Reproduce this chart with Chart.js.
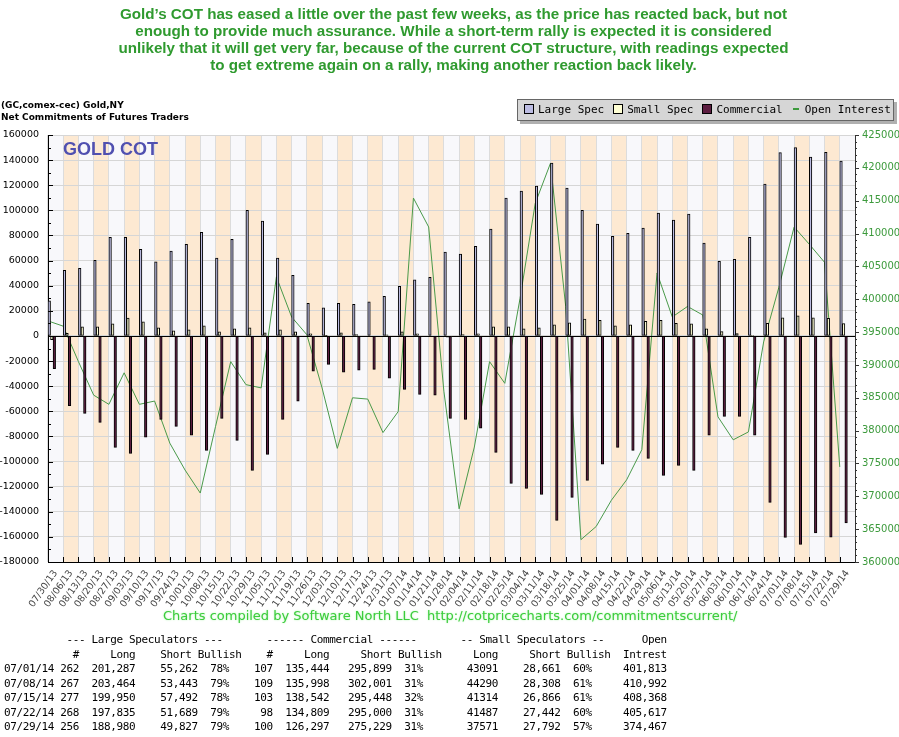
<!DOCTYPE html>
<html lang="en">
<head>
<meta charset="UTF-8">
<title>Gold COT</title>
<script src="https://cdn.jsdelivr.net/npm/chart.js"></script>
<style>
    body { margin: 0; background: #fff; }
    #wrap { position: relative; width: 899px; height: 737px; overflow: hidden; }
    #wrap canvas { position: absolute; left: 0; top: 0; }

    /* Kommentar oben */
    .note {
        position: absolute; left: 4px; top: 5px; width: 899px;
        text-align: center; color: #2f9a2f; line-height: 16.8px;
        font: bold 15.2px "Liberation Sans", Arial, sans-serif;
    }
    .head {
        position: absolute; left: 1px; top: 99px; color: #000;
        font: bold 9px "DejaVu Sans", Verdana, sans-serif; line-height: 12px;
    }
    .gold {
        position: absolute; left: 63px; top: 139px; color: #5050b0;
        font: bold 18px "Liberation Sans", Arial, sans-serif;
    }
    #legend {
        position: absolute; left: 517px; top: 99px; width: 369px; height: 20px;
        background: #d6d6d6; border: 1px solid #666; box-shadow: 3px 3px 0 #b0b0b0;
        font: 11px "DejaVu Sans Mono", monospace; line-height: 20px; padding-left: 6px;
        box-sizing: content-box; white-space: nowrap; overflow: hidden;
    }
    #legend .sw { display: inline-block; width: 8px; height: 8px; border: 1px solid #000; margin-right: 4px; vertical-align: -1px; }
    #legend .dash { display: inline-block; width: 6px; height: 2px; background: #3c9a3c; margin: 0 6px 0 1px; vertical-align: 3px; }
    #legend .item { margin-right: 9px; }
    .credit {
        position: absolute; left: 163px; top: 608px; color: #3ccc3c;
        font: 13px "DejaVu Sans", Verdana, sans-serif; text-shadow: 0 0 2px #a8f0a8;
    }
    #table {
        position: absolute; left: 4px; top: 633px; margin: 0; color: #000;
        font: 11px "DejaVu Sans Mono", monospace; letter-spacing: -0.37px; line-height: 14.5px;
    }
</style>
</head>
<body>
<div id="wrap">
    <canvas id="chart" width="899" height="737"></canvas>
    <div class="note">
        Gold’s COT has eased a little over the past few weeks, as the price has reacted back, but not<br>
        enough to provide much assurance. While a short-term rally is expected it is considered<br>
        unlikely that it will get very far, because of the current COT structure, with readings expected<br>
        to get extreme again on a rally, making another reaction back likely.
    </div>
    <div class="head">(GC,comex-cec) Gold,NY<br>Net Commitments of Futures Traders</div>
    <div class="gold">GOLD COT</div>
    <div id="legend"></div>
    <div class="credit">Charts compiled by Software North LLC&nbsp; http://cotpricecharts.com/commitmentscurrent/</div>
    <pre id="table"></pre>
</div>
<script>
    // Wochen (Dienstag-Stichtage)
    var dates = ['07/30/13', '08/06/13', '08/13/13', '08/20/13', '08/27/13', '09/03/13', '09/10/13', '09/17/13',
        '09/24/13', '10/01/13', '10/08/13', '10/15/13', '10/22/13', '10/29/13', '11/05/13', '11/12/13', '11/19/13',
        '11/26/13', '12/03/13', '12/10/13', '12/17/13', '12/24/13', '12/31/13', '01/07/14', '01/14/14', '01/21/14',
        '01/28/14', '02/04/14', '02/11/14', '02/18/14', '02/25/14', '03/04/14', '03/11/14', '03/18/14', '03/25/14',
        '04/01/14', '04/08/14', '04/15/14', '04/22/14', '04/29/14', '05/06/14', '05/13/14', '05/20/14', '05/27/14',
        '06/03/14', '06/10/14', '06/17/14', '06/24/14', '07/01/14', '07/08/14', '07/15/14', '07/22/14', '07/29/14'];

    // Netto-Positionen
    var largeSpec = [27900, 52300, 53900, 60300, 78600, 78600, 69000, 59000, 67500, 73000,
        82600, 61900, 77000, 100100, 91400, 61900, 48300, 26000, 22300, 26000,
        25200, 27100, 31600, 39600, 44600, 46700, 66700, 65100, 71400, 85000,
        109700, 115300, 119300, 137600, 117700, 100100, 89000, 79400, 81800, 85800,
        97800, 92200, 97000, 73900, 59500, 61100, 78600, 120900, 146025, 150021,
        142458, 146146, 139153];
    var smallSpec = [-3000, 2100, 7200, 7200, 9600, 14300, 11200, 6400, 4000, 4800,
        8000, 3200, 5600, 6400, 2400, 4800, 3200, 1600, 300, 2400,
        1000, -300, 800, 3200, 1600, -500, -1000, 1000, 1600, 7200,
        7200, 5600, 6400, 8800, 10400, 13500, 12500, 8000, 8800, 11700,
        12500, 10100, 9600, 5600, 3400, 1900, 500, 10100, 14430, 15982,
        14448, 14045, 9779];
    var commercial = [-26000, -55500, -61600, -68800, -88700, -93500, -80700, -66400, -72000, -79100,
        -91100, -65600, -83100, -107000, -94300, -66400, -52000, -28100, -22600, -28900,
        -27300, -26600, -33700, -42500, -46500, -47200, -65600, -66400, -73500, -92700,
        -117400, -121400, -126100, -146900, -128500, -115000, -102200, -88700, -91100, -97500,
        -111000, -103000, -107000, -79100, -64000, -64000, -79100, -132500, -160455, -166003,
        -156906, -160191, -148932];
    var openInterest = [396700, 395900, 390500, 385400, 384000, 388800, 384000, 384500, 378100, 374000,
        370500, 380600, 390500, 387000, 386500, 403400, 397300, 394600, 386500, 377300,
        385000, 384800, 379700, 382900, 415400, 411000, 386000, 368100, 377500, 390500,
        387200, 400100, 414600, 420700, 398900, 363400, 365400, 369400, 372500, 377100,
        404000, 397300, 398900, 397600, 382100, 378600, 379800, 393500, 401813, 410992,
        408368, 405617, 374467];

    // Achsen
    var leftMin = -180000, leftMax = 160000, leftStep = 20000;
    var rightMin = 360000, rightMax = 425000, rightStep = 5000;

    // Tabelle unten
    var tableRows = [
        ['07/01/14', '262', '201,287', '55,262', '78%', '107', '135,444', '295,899', '31%', '43091', '28,661', '60%', '401,813'],
        ['07/08/14', '267', '203,464', '53,443', '79%', '109', '135,998', '302,001', '31%', '44290', '28,308', '61%', '410,992'],
        ['07/15/14', '277', '199,950', '57,492', '78%', '103', '138,542', '295,448', '32%', '41314', '26,866', '61%', '408,368'],
        ['07/22/14', '268', '197,835', '51,689', '79%', '98', '134,809', '295,000', '31%', '41487', '27,442', '60%', '405,617'],
        ['07/29/14', '256', '188,980', '49,827', '79%', '100', '126,297', '275,229', '31%', '37571', '27,792', '57%', '374,467']
    ];

    var colors = { large: '#bcbce2', small: '#ffffd4', comm: '#5c1d40', oi: '#4a9a4a' };

    // Tabelle als Monospace-Text zusammensetzen (Spaltenende je Feld)
    function line(items) {
        var s = [];
        items.forEach(function (it) {
            var end = it[0], txt = it[1], start = end - txt.length + 1;
            for (var i = 0; i < txt.length; i++) s[start + i] = txt[i];
        });
        for (var j = 0; j < s.length; j++) if (s[j] === undefined) s[j] = ' ';
        return s.join('');
    }
    var ends = [7, 11, 20, 30, 35, 42, 51, 61, 66, 78, 88, 93, 105];
    var txt = [];
    txt.push(line([[34, '--- Large Speculators ---'], [65, '------ Commercial ------'], [95, '-- Small Speculators --'], [105, 'Open']]));
    txt.push(line([[11, '#'], [20, 'Long'], [29, 'Short'], [37, 'Bullish'], [42, '#'], [51, 'Long'], [61, 'Short'], [69, 'Bullish'], [78, 'Long'], [88, 'Short'], [96, 'Bullish'], [105, 'Intrest']]));
    tableRows.forEach(function (r) {
        txt.push(line(r.map(function (v, i) { return [ends[i], v]; })));
    });
    document.getElementById('table').textContent = txt.join('\n');

    // Hintergrundstreifen je Woche
    var bandsPlugin = {
        id: 'bands',
        beforeDraw: function (chart) {
            var ctx = chart.ctx, a = chart.chartArea, x = chart.scales.x;
            var w = x.getPixelForValue(1) - x.getPixelForValue(0);
            ctx.save();
            for (var i = 0; i < dates.length; i++) {
                var c = x.getPixelForValue(i);
                ctx.fillStyle = (i % 2) ? '#fde9d2' : '#f8f8fb';
                ctx.fillRect(c - w / 2, a.top, w, a.bottom - a.top);
            }
            ctx.restore();
        }
    };

    // kleine Skalenstriche + Nulllinie
    var ticksPlugin = {
        id: 'ticks',
        afterDatasetsDraw: function (chart) {
            var ctx = chart.ctx, a = chart.chartArea, s = chart.scales;
            ctx.save();
            ctx.strokeStyle = '#000';
            ctx.lineWidth = 1;
            ctx.beginPath();
            var y0 = Math.round(s.y.getPixelForValue(0)) + 0.5;
            ctx.moveTo(a.left, y0); ctx.lineTo(a.right, y0);
            for (var v = leftMin; v <= leftMax; v += leftStep / 2) {
                var py = Math.round(s.y.getPixelForValue(v)) + 0.5;
                ctx.moveTo(a.left, py); ctx.lineTo(a.left + (v % leftStep === 0 ? 5 : 3), py);
            }
            var w = s.x.getPixelForValue(1) - s.x.getPixelForValue(0);
            for (var i = 1; i < dates.length; i++) {
                var px = Math.round(s.x.getPixelForValue(i) - w / 2) + 0.5;
                ctx.moveTo(px, a.bottom); ctx.lineTo(px, a.bottom - 5);
            }
            ctx.stroke();
            ctx.strokeStyle = '#333';
            ctx.beginPath();
            for (var r = rightMin; r <= rightMax; r += 1000) {
                var ry = Math.round(s.y2.getPixelForValue(r)) + 0.5;
                ctx.moveTo(a.right, ry); ctx.lineTo(a.right + (r % rightStep === 0 ? 4 : 2), ry);
            }
            ctx.stroke();
            ctx.restore();
        }
    };

    function barSet(label, data, color) {
        return {
            label: label, data: data, backgroundColor: color, borderColor: '#000', borderWidth: 1,
            borderSkipped: false, categoryPercentage: 1.0, barPercentage: 1.0, order: 1
        };
    }

    var ctx = document.getElementById('chart').getContext('2d');
    var chart = new Chart(ctx, {
        type: 'bar',
        data: {
            labels: dates,
            datasets: [
                barSet('Large Spec', largeSpec, colors.large),
                barSet('Small Spec', smallSpec, colors.small),
                barSet('Commercial', commercial, colors.comm),
                {
                    type: 'line', label: 'Open Interest', xAxisID: 'xo', yAxisID: 'y2', order: 5,
                    data: openInterest.map(function (v, i) { return { x: i, y: v }; }),
                    borderColor: colors.oi, borderWidth: 1, pointRadius: 0, tension: 0, fill: false
                }
            ]
        },
        options: {
            responsive: false,
            animation: false,
            events: [],
            layout: { padding: { top: 135, bottom: 125, left: 0, right: 0 } },
            plugins: { legend: { display: false }, tooltip: { enabled: false } },
            scales: {
                x: {
                    offset: true,
                    grid: { offset: true, color: '#dcdcdc', drawTicks: false },
                    border: { color: '#000' },
                    ticks: {
                        autoSkip: false, minRotation: 55, maxRotation: 55, padding: 6,
                        color: '#444', font: { family: 'DejaVu Sans', size: 9.5 }
                    },
                    afterFit: function (s) { s.height = 50; }
                },
                xo: {
                    type: 'linear', display: false, offset: false, grid: { offset: false },
                    min: 0, max: dates.length
                },
                y: {
                    position: 'left', min: leftMin, max: leftMax,
                    grid: { color: '#d6d6d6', drawTicks: false },
                    border: { color: '#000' },
                    ticks: {
                        stepSize: leftStep, padding: 9, color: '#000',
                        font: { family: 'DejaVu Sans', size: 9.5 },
                        callback: function (v) { return String(v); }
                    },
                    afterFit: function (s) { s.width = 48; }
                },
                y2: {
                    position: 'right', min: rightMin, max: rightMax,
                    grid: { drawOnChartArea: false, drawTicks: false },
                    border: { color: '#333' },
                    ticks: {
                        stepSize: rightStep, padding: 7, color: '#3c9a3c',
                        font: { family: 'DejaVu Sans', size: 10 },
                        callback: function (v) { return String(v); }
                    },
                    afterFit: function (s) { s.width = 44; }
                }
            }
        },
        plugins: [bandsPlugin, ticksPlugin]
    });

    // Legende aus den Datensätzen
    var leg = document.getElementById('legend');
    chart.data.datasets.forEach(function (ds) {
        var item = document.createElement('span');
        item.className = 'item';
        var mark = document.createElement('span');
        if (ds.type === 'line') {
            mark.className = 'dash';
        } else {
            mark.className = 'sw';
            mark.style.background = ds.backgroundColor;
        }
        item.appendChild(mark);
        item.appendChild(document.createTextNode(ds.label));
        leg.appendChild(item);
    });
</script>
</body>
</html>
